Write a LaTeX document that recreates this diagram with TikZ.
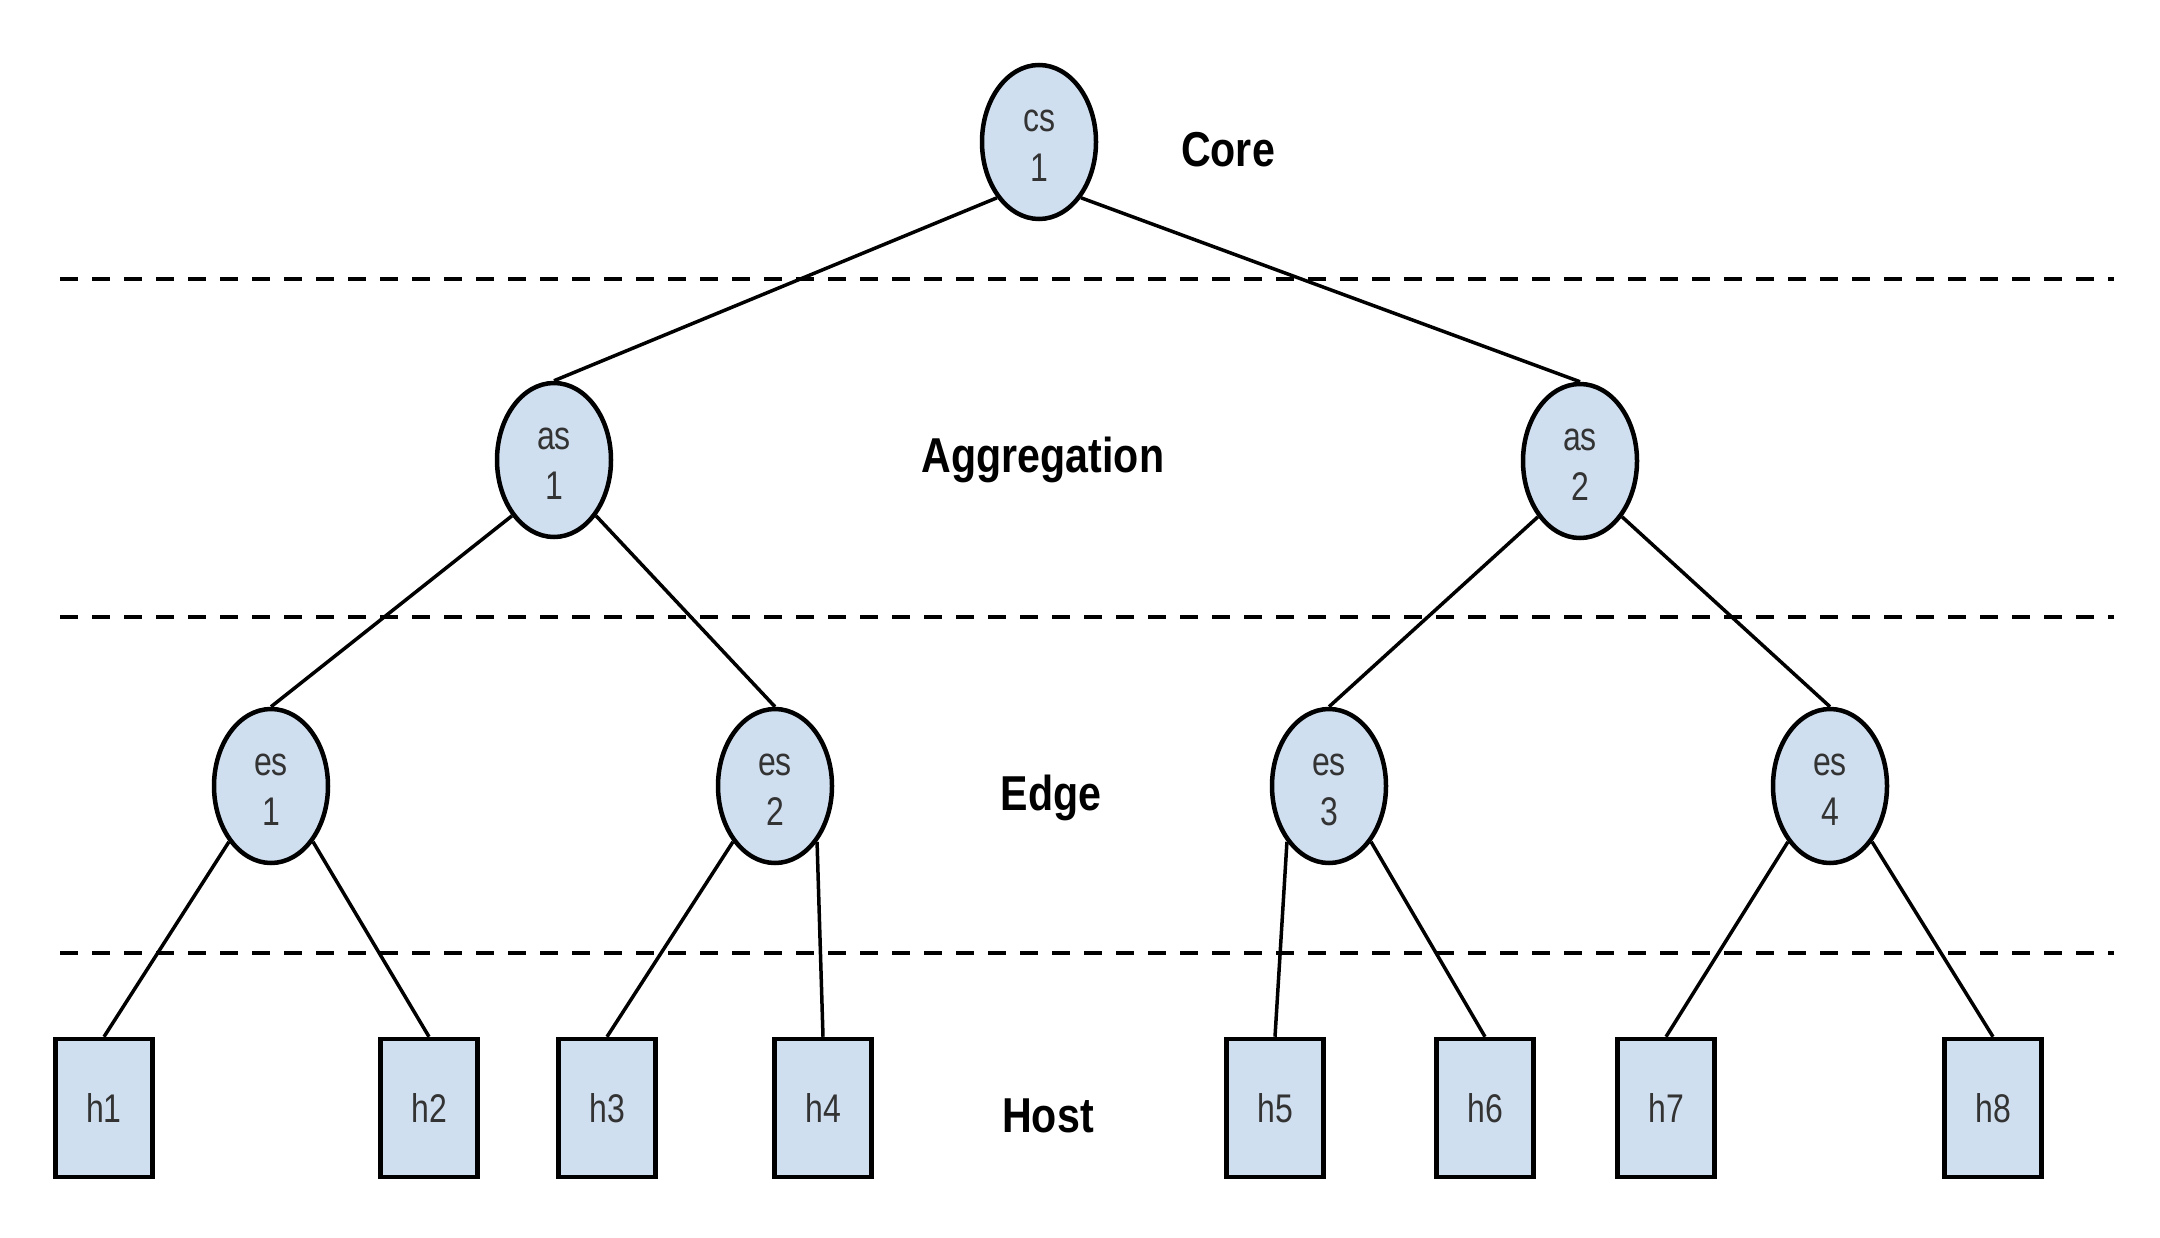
\documentclass[tikz,border=0pt]{standalone}
\usepackage{fontspec}
\setmainfont{Liberation Sans}
\newfontfamily\lblfont{Liberation Sans}[FakeStretch=0.84]
\newfontfamily\nodefont{Liberation Sans}[FakeStretch=0.8]
\usetikzlibrary{shapes.geometric}
\definecolor{nodefill}{HTML}{D0DFF0}
\definecolor{nodetext}{HTML}{333333}
\tikzset{
  sw/.style={ellipse, draw=black, line width=4.5pt, fill=nodefill,
    minimum width=114pt, minimum height=154pt, inner sep=0pt},
  swtext/.style={font=\nodefont\fontsize{40}{50}\selectfont, text=nodetext,
    align=center, inner sep=0pt},
  host/.style={rectangle, draw=black, line width=4.5pt, fill=nodefill,
    minimum width=97pt, minimum height=138pt, inner sep=0pt,
    font=\nodefont\fontsize{40}{48}\selectfont, text=nodetext},
  layer/.style={font=\lblfont\bfseries\fontsize{49}{58}\selectfont,
    anchor=base, inner sep=0pt},
  link/.style={line width=3.5pt},
  sepline/.style={line width=4.5pt, dash pattern=on 18pt off 14pt}
}
\begin{document}
\begin{tikzpicture}[x=1pt,y=-1pt]
\useasboundingbox[fill=white] (0,0) rectangle (2160,1238);
% layer separators
\draw[sepline] (60,279) -- (2114,279);
\draw[sepline] (60,617) -- (2114,617);
\draw[sepline] (60,953) -- (2114,953);
% switches
\node[sw] (cs1) at (1039,142) {};
\node[sw] (as1) at (554,460) {};
\node[sw] (as2) at (1580,461) {};
\node[sw] (es1) at (271,786) {};
\node[sw] (es2) at (775,786) {};
\node[sw] (es3) at (1329,786) {};
\node[sw] (es4) at (1830,786) {};
\node[swtext] (cs1t) at ([yshift=-4pt]cs1.center) {cs\\1};
\node[swtext] (as1t) at ([yshift=-4pt]as1.center) {as\\1};
\node[swtext] (as2t) at ([yshift=-4pt]as2.center) {as\\2};
\node[swtext] (es1t) at ([yshift=-4pt]es1.center) {es\\1};
\node[swtext] (es2t) at ([yshift=-4pt]es2.center) {es\\2};
\node[swtext] (es3t) at ([yshift=-4pt]es3.center) {es\\3};
\node[swtext] (es4t) at ([yshift=-4pt]es4.center) {es\\4};
% hosts
\node[host] (h1) at (104,1108) {h1};
\node[host] (h2) at (429,1108) {h2};
\node[host] (h3) at (607,1108) {h3};
\node[host] (h4) at (823,1108) {h4};
\node[host] (h5) at (1275,1108) {h5};
\node[host] (h6) at (1485,1108) {h6};
\node[host] (h7) at (1666,1108) {h7};
\node[host] (h8) at (1993,1108) {h8};
% layer labels
\node[layer] (lcore) at (1228,167) {Core};
\node[layer] (lagg) at (1043,472) {Aggregation};
\node[layer] (ledge) at (1051,810) {Edge};
\node[layer] (lhost) at (1048,1132) {Host};
% links
\draw[link] (cs1.233) -- (as1.north);
\draw[link] (cs1.307) -- (as2.north);
\draw[link] (as1.233) -- (es1.north);
\draw[link] (as1.307) -- (es2.north);
\draw[link] (as2.233) -- (es3.north);
\draw[link] (as2.307) -- (es4.north);
\draw[link] (es1.233) -- (h1.north);
\draw[link] (es1.307) -- (h2.north);
\draw[link] (es2.233) -- (h3.north);
\draw[link] (es2.307) -- (h4.north);
\draw[link] (es3.233) -- (h5.north);
\draw[link] (es3.307) -- (h6.north);
\draw[link] (es4.233) -- (h7.north);
\draw[link] (es4.307) -- (h8.north);
\end{tikzpicture}
\end{document}
